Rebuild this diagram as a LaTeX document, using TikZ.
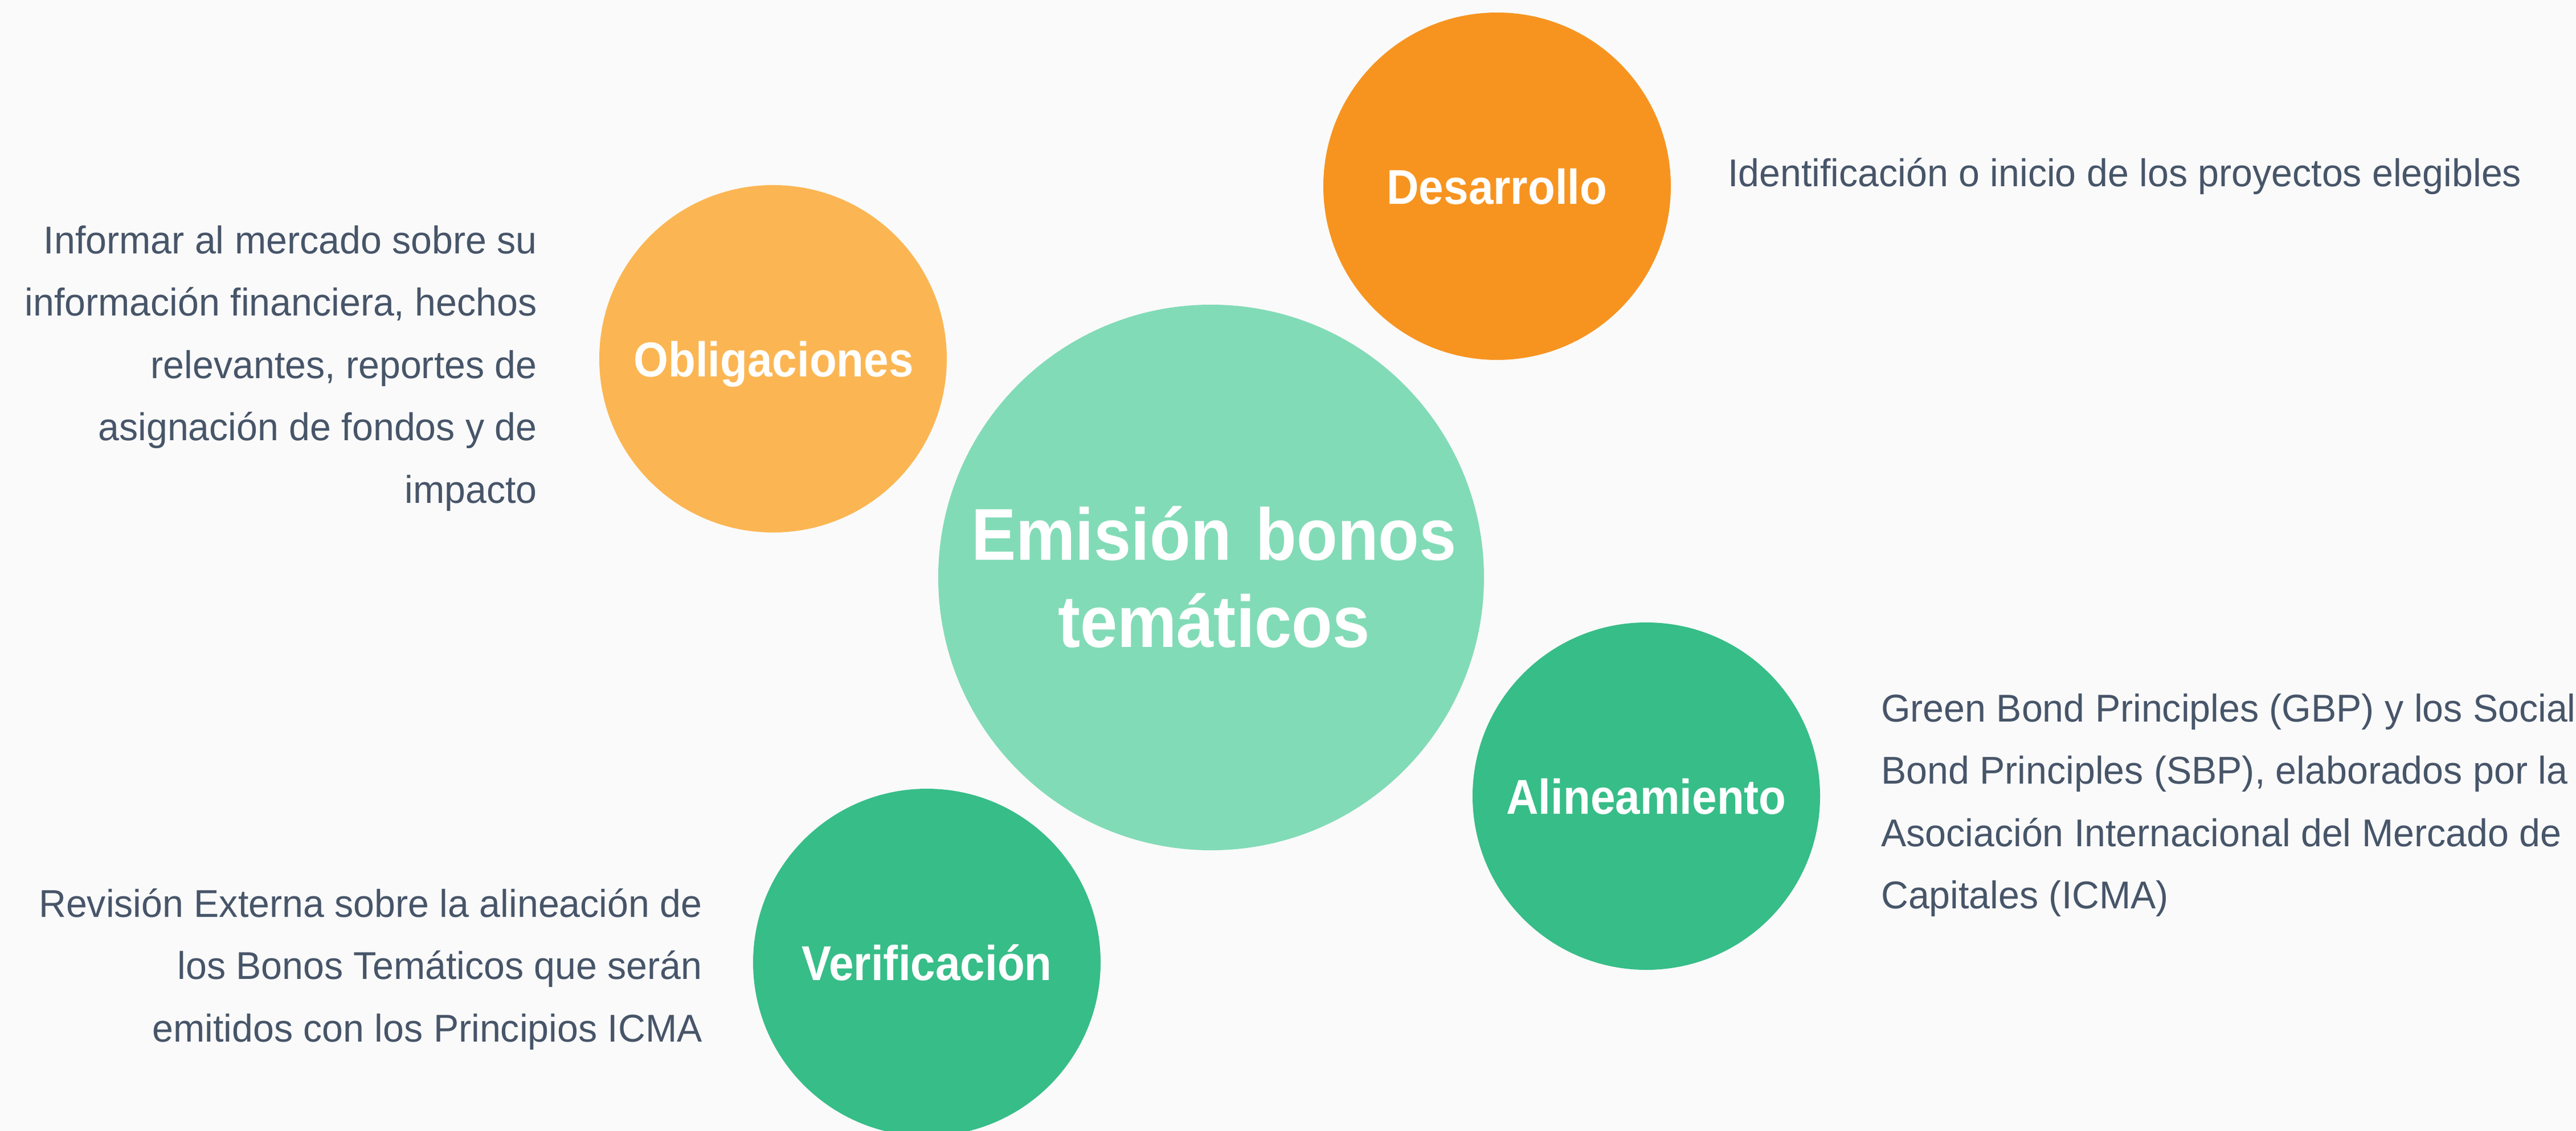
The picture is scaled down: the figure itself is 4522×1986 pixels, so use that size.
\documentclass[tikz,border=0pt]{standalone}
\usepackage{fontspec}
\setmainfont{Liberation Sans}[FakeStretch=0.975, BoldFeatures={FakeStretch=0.91}]
\definecolor{bg}{RGB}{250,250,250}
\definecolor{cOrange}{RGB}{247,148,32}
\definecolor{cLightOrange}{RGB}{251,182,83}
\definecolor{cMint}{RGB}{130,219,183}
\definecolor{cGreen}{RGB}{55,189,136}
\definecolor{cText}{RGB}{71,85,105}
\begin{document}
\begin{tikzpicture}[x=1pt,y=-1pt,
  bubble/.style={circle, fill=#1, draw=none, inner sep=0pt, minimum size=610pt},
  bigbubble/.style={circle, fill=#1, draw=none, inner sep=0pt, minimum size=958pt},
  title/.style={font=\bfseries\fontsize{86}{100}\selectfont, text=white, inner sep=0pt, anchor=base},
  bigtitle/.style={font=\bfseries\fontsize{129}{153}\selectfont, text=white, inner sep=0pt, anchor=base, align=center, text width=1000pt},
  desc/.style={font=\fontsize{68}{109.5}\selectfont, text=cText, inner sep=0pt, text width=1500pt},
]
\useasboundingbox[fill=bg] (0,0) rectangle (4522,1986);
\clip (0,0) rectangle (4522,1986);

% circles
\node[bigbubble=cMint] (emi) at (2126,1014) {};
\node[bubble=cOrange] (des) at (2628,327) {};
\node[bubble=cLightOrange] (obl) at (1357,630) {};
\node[bubble=cGreen] (ali) at (2890,1398) {};
\node[bubble=cGreen] (ver) at (1627,1690) {};

% titles
\node[bigtitle] (emiT) at (2131,983) {Emisión bonos\\temáticos};
\node[title] (desT) at (2628,358) {Desarrollo};
\node[title] (oblT) at (1358,661) {Obligaciones};
\node[title] (aliT) at (2890,1429) {Alineamiento};
\node[title] (verT) at (1627,1721) {Verificación};

% descriptions
\node[desc, anchor=base west, align=flush left] (desD) at (3033,327)
  {Identificación o inicio de los proyectos elegibles};
\node[desc, anchor=base east, align=flush right] (oblD) at (943,445)
  {Informar al mercado sobre su\\información financiera, hechos\\relevantes, reportes de\\asignación de fondos y de\\impacto};
\node[desc, anchor=base west, align=flush left] (aliD) at (3302,1267)
  {Green Bond Principles (GBP) y los Social\\Bond Principles (SBP), elaborados por la\\Asociación Internacional del Mercado de\\Capitales (ICMA)};
\node[desc, anchor=base east, align=flush right] (verD) at (1233,1610)
  {Revisión Externa sobre la alineación de\\los Bonos Temáticos que serán\\emitidos con los Principios ICMA};
\end{tikzpicture}
\end{document}
